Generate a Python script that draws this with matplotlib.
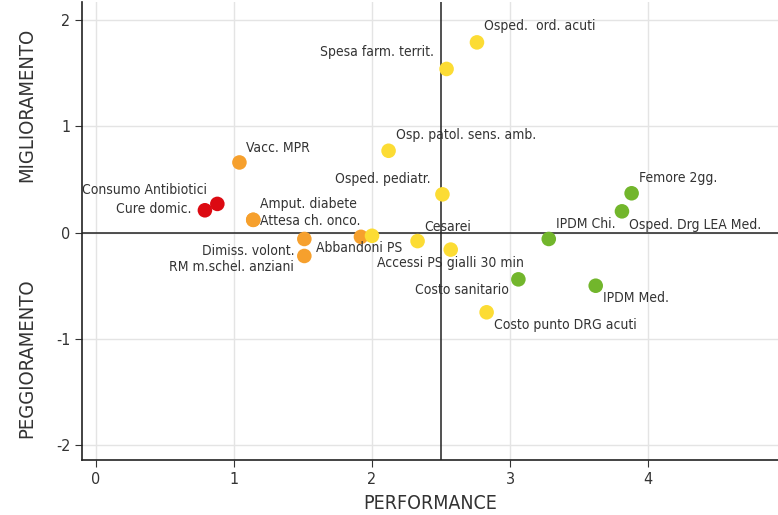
import matplotlib
matplotlib.use("Agg")
import matplotlib.pyplot as plt

nomi = ["Osped.  ord. acuti", "Spesa farm. territ.", "Osp. patol. sens. amb.", "Vacc. MPR",
        "Osped. pediatr.", "Consumo Antibiotici", "Cure domic.", "Amput. diabete",
        "Attesa ch. onco.", "Dimiss. volont.", "RM m.schel. anziani", "Abbandoni PS", "",
        "Cesarei", "Accessi PS gialli 30 min", "IPDM Chi.", "Costo sanitario", "IPDM Med.",
        "Costo punto DRG acuti", "Femore 2gg.", "Osped. Drg LEA Med."]
performance = [2.76, 2.54, 2.12, 1.04, 2.51, 0.88, 0.79, 1.14, 1.14, 1.51, 1.51, 1.92, 2.00,
               2.33, 2.57, 3.28, 3.06, 3.62, 2.83, 3.88, 3.81]
trend = [1.79, 1.54, 0.77, 0.66, 0.36, 0.27, 0.21, 0.12, 0.12, -0.06, -0.22, -0.04, -0.03,
         -0.08, -0.16, -0.06, -0.44, -0.50, -0.75, 0.37, 0.20]
fascia = ["giallo", "giallo", "giallo", "arancio", "giallo", "rosso", "rosso", "arancio",
          "arancio", "arancio", "arancio", "arancio", "giallo", "giallo", "giallo", "verde",
          "verde", "verde", "giallo", "verde", "verde"]

colori = {"rosso": "#dc0a12", "arancio": "#f6a02d", "giallo": "#fcdc34", "verde": "#72b62c"}

# spostamenti etichette in pixel (dx, dy, allineamento)
offs = {
    "Osped.  ord. acuti": (7, 16, "left"),
    "Spesa farm. territ.": (-13, 17, "right"),
    "Osp. patol. sens. amb.": (7, 16, "left"),
    "Vacc. MPR": (7, 14, "left"),
    "Osped. pediatr.": (-12, 15, "right"),
    "Consumo Antibiotici": (-10, 14, "right"),
    "Cure domic.": (-13, 1, "right"),
    "Amput. diabete": (7, 16, "left"),
    "Attesa ch. onco.": (7, -1, "left"),
    "Dimiss. volont.": (-10, -12, "right"),
    "RM m.schel. anziani": (-10, -11, "right"),
    "Abbandoni PS": (-45, -11, "left"),
    "Cesarei": (7, 14, "left"),
    "Accessi PS gialli 30 min": (0, -13, "center"),
    "IPDM Chi.": (7, 15, "left"),
    "Costo sanitario": (-10, -11, "right"),
    "IPDM Med.": (7, -12, "left"),
    "Costo punto DRG acuti": (7, -13, "left"),
    "Femore 2gg.": (7, 15, "left"),
    "Osped. Drg LEA Med.": (7, -14, "left"),
}

plt.rcParams["font.family"] = ["DejaVu Sans"]
plt.rcParams["font.stretch"] = "condensed"
plt.rcParams["axes.unicode_minus"] = False

fig = plt.figure(figsize=(7.78, 5.15), dpi=100)
ax = fig.add_axes([82 / 778, 55 / 515, 696 / 778, 458 / 515])

ax.scatter(performance, trend, s=110, c=[colori[f] for f in fascia], zorder=3, linewidths=0)
ax.axvline(2.5, color="#222222", lw=1.1, zorder=2)
ax.axhline(0, color="#222222", lw=1.1, zorder=2)

for n, x, y in zip(nomi, performance, trend):
    if not n:
        continue
    dx, dy, ha = offs[n]
    ax.annotate(n, (x, y), xytext=(dx * 0.72, dy * 0.72), textcoords="offset points",
                ha=ha, va="center", fontsize=10, color="#333333")

ax.set_xlim(-0.1, 4.94)
ax.set_ylim(-2.14, 2.17)
ax.set_xticks([0, 1, 2, 3, 4])
ax.set_yticks([-2, -1, 0, 1, 2])
ax.grid(True, color="#e4e4e4", lw=1, zorder=0)
ax.set_axisbelow(True)
for s in ["top", "right"]:
    ax.spines[s].set_visible(False)
for s in ["left", "bottom"]:
    ax.spines[s].set_color("#222222")
    ax.spines[s].set_linewidth(1.2)
ax.tick_params(colors="#333333", labelsize=11.5, length=5)
ax.set_xlabel("PERFORMANCE", fontsize=14, color="#333333", labelpad=5)

fig.text(27 / 778, 1 - 105 / 515, "MIGLIORAMENTO", rotation=90, ha="center", va="center",
         fontsize=14.5, color="#333333")
fig.text(27 / 778, 1 - 358 / 515, "PEGGIORAMENTO", rotation=90, ha="center", va="center",
         fontsize=14.5, color="#333333")

fig.savefig("out.png", dpi=100)
